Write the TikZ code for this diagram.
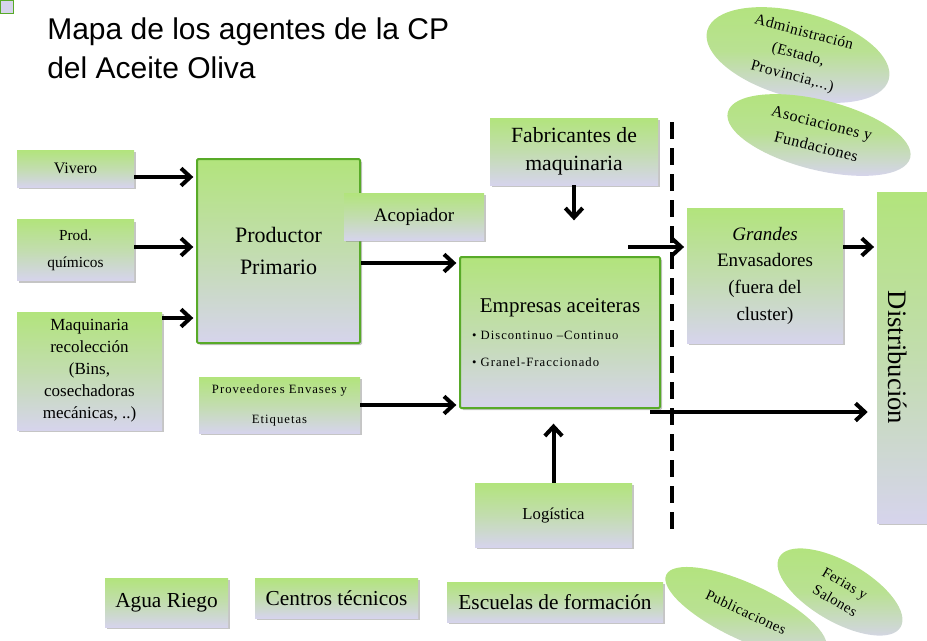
\documentclass[tikz,border=0pt]{standalone}
\usepackage{fontspec}
\usepackage{graphicx}
\setmainfont{Liberation Serif}
\newfontfamily\titlefont{Liberation Sans}
\newfontfamily\spacedfont[LetterSpace=8]{Liberation Serif}
\newfontfamily\wavefont[LetterSpace=3]{Liberation Serif}
\usetikzlibrary{arrows.meta,shadows,shapes.geometric}
\newcommand{\fsz}[2]{\fontsize{#1}{#2}\selectfont}
\definecolor{leafgreen}{RGB}{178,228,124}
\definecolor{paleviolet}{RGB}{214,212,236}
\definecolor{rimgreen}{RGB}{88,170,40}
\tikzset{
  agent/.style={rectangle, inner sep=0pt, align=center, top color=leafgreen, bottom color=paleviolet, middle color=leafgreen!55!paleviolet, drop shadow={shadow xshift=1.5pt, shadow yshift=-1.5pt, fill=black!45}},
  core/.style={agent, draw=rimgreen, line width=1.5pt, rounded corners=1pt},
  blob/.style={ellipse, inner sep=0pt, align=center, top color=leafgreen, bottom color=paleviolet, middle color=leafgreen!80!paleviolet},
  flow/.style={line width=3pt, shorten >=2pt, -{Straight Barb[length=7pt,width=13pt]}},
}
\begin{document}
\begin{tikzpicture}[x=0.75pt,y=0.75pt,yscale=-1,xscale=1]
\path[use as bounding box] (0,0) rectangle (927,640);

%Shape: Square [corner mark]
\node[draw=rimgreen, fill=paleviolet, line width=1pt, minimum size=10pt, inner sep=0pt, anchor=south east] (mark) at (14,14) {};
%Text Node [title]
\node[anchor=north west, inner sep=0pt, align=left, font=\titlefont\fsz{22.5}{29.25}] (title) at (47,17) {Mapa de los agentes de la CP\\del Aceite Oliva};

%Shape: Rectangle [suppliers]
\node[agent, minimum width=87.75pt, minimum height=27.75pt, font=\fsz{12}{14}] (vivero) at (75.5,168.5) {Vivero};
\node[agent, minimum width=87.75pt, minimum height=45.75pt, font=\fsz{11.5}{20}] (quimicos) at (75.5,250) {Prod.\\químicos};
\node[agent, minimum width=108.75pt, minimum height=88.5pt, font=\fsz{12.75}{16.5}] (maquinaria) at (89.5,371) {Maquinaria\\recolección\\(Bins,\\cosechadoras\\mecánicas, ..)};
%Shape: Rectangle [primary]
\node[core, minimum width=122.25pt, minimum height=138pt, font=\fsz{16.5}{27}] (productor) at (278.5,251) {\raisebox{-3pt}{Productor}\\Primario};
\node[agent, minimum width=105pt, minimum height=35.25pt, font=\fsz{14.25}{17}] (acopiador) at (414,216.5) {Acopiador};
\node[agent, minimum width=120.75pt, minimum height=42pt, font=\spacedfont\fsz{9.5}{22.5}] (proveedores) at (279.5,405) {Proveedores Envases y\\Etiquetas};
%Shape: Rectangle [mills]
\node[core, minimum width=150pt, minimum height=113.25pt] (empresas) at (560,332.5) {\parbox{140pt}{\centering\fsz{15.75}{20}Empresas aceiteras\par\raggedright\leftskip=4pt\spacedfont\fsz{9.5}{20}• Discontinuo –Continuo\par • Granel-Fraccionado\par}};
\node[agent, minimum width=126pt, minimum height=50.25pt, font=\fsz{16.25}{21}] (fabricantes) at (574,151.5) {Fabricantes de\\maquinaria};
\node[agent, minimum width=117.75pt, minimum height=48pt, font=\fsz{12.5}{15}] (logistica) at (553.5,515) {Logística};
%Shape: Rectangle [outside]
\node[agent, minimum width=117pt, minimum height=101.25pt, font=\fsz{14.25}{20}] (grandes) at (765,275.5) {\textit{Grandes}\\Envasadores\\(fuera del\\cluster)};
\node[agent, minimum width=40.5pt, minimum height=248.25pt, font=\fsz{20}{24}] (distribucion) at (904,357.5) {\rotatebox{-90}{Distribución}\hspace{9pt}};
%Shape: Rectangle [bottom row]
\node[agent, minimum width=92.25pt, minimum height=36.75pt, font=\fsz{16}{18}] (agua) at (166.5,602.5) {\raisebox{-3pt}{Agua Riego}};
\node[agent, minimum width=122.25pt, minimum height=30pt, font=\fsz{16}{18}] (centros) at (336.5,598) {Centros técnicos};
\node[agent, minimum width=162pt, minimum height=30pt, font=\fsz{16}{18}] (escuelas) at (555,602) {Escuelas de formación};

%Shape: Ellipse
\node[blob, rotate=-15, minimum width=141pt, minimum height=64pt, font=\wavefont\fsz{11.5}{17}] (administracion) at (798,55) {Administración\\(Estado,\\Provincia,...)};
\node[blob, rotate=-14, minimum width=141pt, minimum height=52.5pt, font=\wavefont\fsz{12}{18}] (asociaciones) at (819,135) {Asociaciones y\\Fundaciones};
\node[blob, rotate=-30, minimum width=105pt, minimum height=45pt, font=\wavefont\fsz{11}{15}] (ferias) at (840,592) {Ferias y\\Salones};
\node[blob, rotate=-25, minimum width=132pt, minimum height=42pt, font=\wavefont\fsz{11}{14}] (publicaciones) at (746,612) {Publicaciones};

%Dashed Lines [cluster border]
\coordinate (cuttop) at (672,122);
\coordinate (cutend) at (672,538);
\draw[line width=3pt, dash pattern={on 12.75pt off 6.75pt}] (cuttop) -- (cutend);

%Straight Lines [arrows]
\draw[flow] (vivero.east |- 0,177) -- (productor.west |- 0,177);
\draw[flow] (quimicos.east |- 0,247) -- (productor.west |- 0,247);
\draw[flow] (maquinaria.east |- 0,318) -- (productor.west |- 0,318);
\draw[flow] (productor.east |- 0,263) -- (empresas.west |- 0,263);
\draw[flow] (proveedores.east) -- (proveedores.east -| empresas.west);
\draw[flow] (fabricantes.south) -- (fabricantes.south |- 0,223);
\draw[flow] (logistica.north) -- (logistica.north |- 0,421);
\coordinate (split) at (628,247);
\draw[flow] (split) -- (split -| grandes.west);
\draw[flow] (grandes.east |- split) -- (split -| distribucion.west);
\coordinate (bypass) at (650,412);
\draw[flow, shorten >=6.75pt] (bypass) -- (bypass -| distribucion.west);

\end{tikzpicture}
\end{document}
